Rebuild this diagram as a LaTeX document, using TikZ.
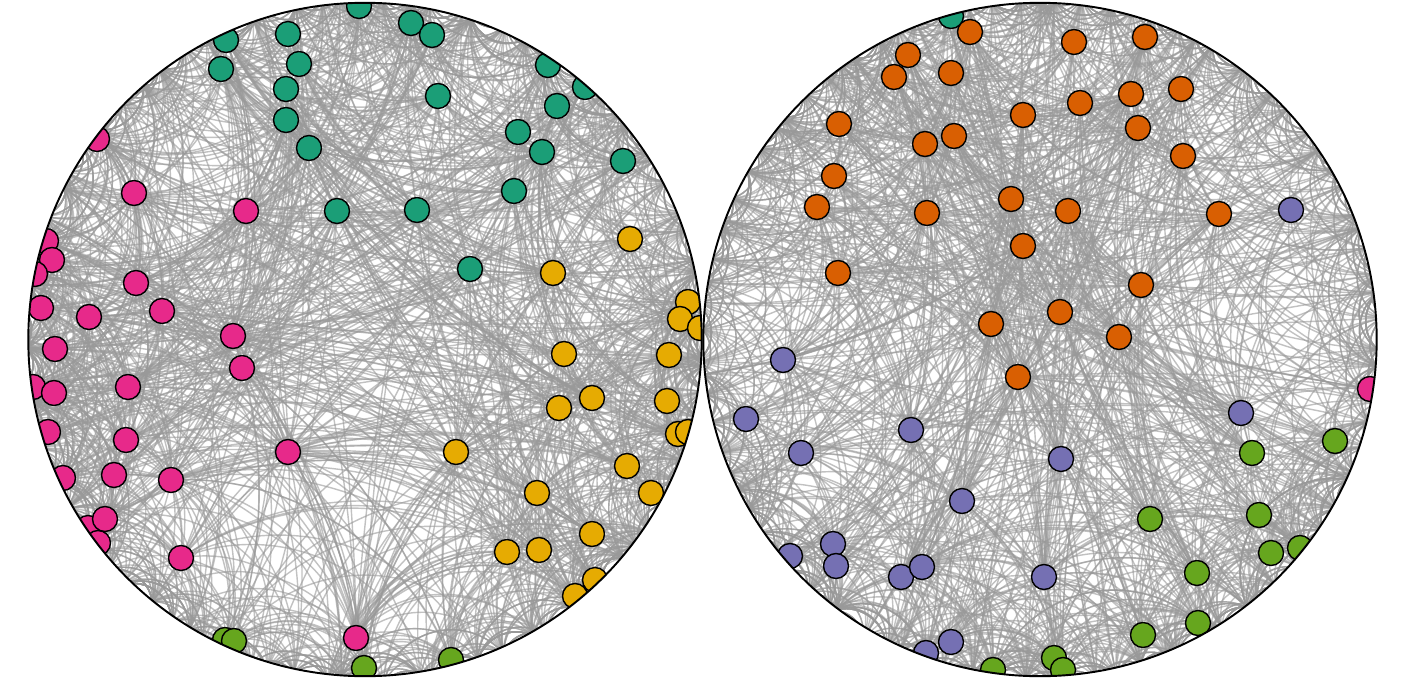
\documentclass[tikz,border=0pt]{standalone}
\pgfdeclarelayer{bgwhite}
\pgfdeclarelayer{edges}
\pgfsetlayers{bgwhite,edges,main}
\definecolor{cTeal}{HTML}{1B9E77}
\definecolor{cOrange}{HTML}{D95F02}
\definecolor{cPurple}{HTML}{7570B3}
\definecolor{cPink}{HTML}{E7298A}
\definecolor{cGreen}{HTML}{66A61E}
\definecolor{cYellow}{HTML}{E6AB02}
\definecolor{edgegray}{HTML}{999999}
\tikzset{
  vert/.style={circle, draw=black, line width=0.4pt, minimum size=0.25cm, inner sep=0pt},
  geo/.style={draw=edgegray, line width=0.4pt, draw opacity=0.6},
  rimline/.style={draw=black, line width=0.55pt},
}
\def\NG{90}
% store normalized coordinates (w.r.t. the hyperbolic disk of radius \dH)
\newcommand\storenode[4]{% #1 prefix, #2 index, #3 x, #4 y
  \pgfmathsetmacro\tu{((#3)-\dcx)/\dH}%
  \pgfmathsetmacro\tv{((#4)-\dcy)/\dH}%
  \pgfmathsetmacro\ta{1+(\tu)*(\tu)+(\tv)*(\tv)}%
  \pgfmathsetmacro\tw{1-min((\tu)*(\tu)+(\tv)*(\tv),0.98)}%
  \expandafter\xdef\csname #1u#2\endcsname{\tu}%
  \expandafter\xdef\csname #1v#2\endcsname{\tv}%
  \expandafter\xdef\csname #1a#2\endcsname{\ta}%
  \expandafter\xdef\csname #1w#2\endcsname{\tw}%
}
% hyperbolic geodesic between two named points
\newcommand\geoedge[4]{% #1 prefix, #2 i, #3 prefix, #4 j
  \edef\gui{\csname #1u#2\endcsname}\edef\gvi{\csname #1v#2\endcsname}%
  \edef\guj{\csname #3u#4\endcsname}\edef\gvj{\csname #3v#4\endcsname}%
  \edef\gai{\csname #1a#2\endcsname}\edef\gaj{\csname #3a#4\endcsname}%
  \pgfmathsetmacro\gdet{(\gui)*(\gvj)-(\guj)*(\gvi)}%
  \pgfmathtruncatemacro\gstraight{abs(\gdet)<0.03}%
  \ifnum\gstraight=1
    \draw[geo] (#1#2.center) -- (#3#4.center);%
  \else
    \pgfmathsetmacro\gox{((\gai)*(\gvj)-(\gaj)*(\gvi))/(2*(\gdet))}%
    \pgfmathsetmacro\goy{((\gaj)*(\gui)-(\gai)*(\guj))/(2*(\gdet))}%
    \pgfmathsetmacro\gta{atan2((\gvi)-(\goy),(\gui)-(\gox))}%
    \pgfmathsetmacro\gtb{atan2((\gvj)-(\goy),(\guj)-(\gox))}%
    \pgfmathsetmacro\gr{veclen((\gui)-(\gox),(\gvi)-(\goy))}%
    \pgfmathsetmacro\gd{mod((\gtb)-(\gta)+540,360)-180}%
    \pgfmathsetmacro\gk{4/3*tan((\gd)/4)*(\gr)}%
    \pgfmathsetmacro\gax{\dcx+\dH*((\gui)-(\gk)*sin(\gta))}%
    \pgfmathsetmacro\gay{\dcy+\dH*((\gvi)+(\gk)*cos(\gta))}%
    \pgfmathsetmacro\gbx{\dcx+\dH*((\guj)+(\gk)*sin(\gtb))}%
    \pgfmathsetmacro\gby{\dcy+\dH*((\gvj)-(\gk)*cos(\gtb))}%
    \draw[geo] (#1#2.center) .. controls (\gax,\gay) and (\gbx,\gby) .. (#3#4.center);%
  \fi}
% random test of one pair
\newcommand\pairtest[6]{% #1 P, #2 i, #3 Q, #4 j, #5 K, #6 cap
  \edef\eUi{\csname #1u#2\endcsname}\edef\eVi{\csname #1v#2\endcsname}\edef\eWi{\csname #1w#2\endcsname}%
  \edef\eUj{\csname #3u#4\endcsname}\edef\eVj{\csname #3v#4\endcsname}\edef\eWj{\csname #3w#4\endcsname}%
  \pgfmathsetmacro\eDl{min((((\eUi)-(\eUj))*((\eUi)-(\eUj))+((\eVi)-(\eVj))*((\eVi)-(\eVj)))/((\eWi)*(\eWj)*#5),20)}%
  \pgfmathtruncatemacro\eHit{rnd<(\eBase+#6/(1+(\eDl)*(\eDl)))}%
  \ifnum\eHit=1 \geoedge{#1}{#2}{#3}{#4}\fi}
% all edges of one disk
\newcommand\diskall[2]{% #1 prefix, #2 number of nodes
  % points of the graph lying beyond the visible disk
  \foreach \k in {1,...,\NG}{%
    \pgfmathsetmacro\gth{360/\NG*\k+3*rnd}%
    \pgfmathsetmacro\grho{0.928+0.032*rnd}%
    \pgfmathsetmacro\gpx{\dcx+\dH*\grho*cos(\gth)}%
    \pgfmathsetmacro\gpy{\dcy+\dH*\grho*sin(\gth)}%
    \coordinate (#1G\k) at (\gpx,\gpy);%
    \storenode{#1G}{\k}{\gpx}{\gpy}%
  }%
  % node -- node
  \def\eBase{0.014}%
  \pgfmathtruncatemacro\dNm{#2-1}%
  \foreach \i in {1,...,\dNm}{%
    \pgfmathtruncatemacro\jst{\i+1}%
    \foreach \j in {\jst,...,#2}{\pairtest{#1}{\i}{#1}{\j}{5}{0.55}}%
  }%
  % node -- outer point
  \def\eBase{0.011}%
  \foreach \i in {1,...,#2}{%
    \foreach \k in {1,...,\NG}{\pairtest{#1}{\i}{#1G}{\k}{5}{0.8}}%
  }%
  % outer point -- outer point (the band along the rim)
  \foreach \k in {1,...,1100}{%
    \pgfmathtruncatemacro\ga{min(\NG,1+floor(\NG*rnd))}%
    \pgfmathtruncatemacro\gm{2+floor(14*rnd*rnd*rnd)}%
    \pgfmathtruncatemacro\gb{mod(\ga+\gm-1,\NG)+1}%
    \geoedge{#1G}{\ga}{#1G}{\gb}%
  }%
}
\begin{document}
\begin{tikzpicture}[x=0.01cm,y=-0.01cm]
\useasboundingbox (0,0) rectangle (1406,685);
\begin{pgfonlayer}{bgwhite}
  \fill[white] (0,0) rectangle (1406,685);
\end{pgfonlayer}
\pgfmathsetseed{20240}
% ---------------- left disk ----------------
\def\dcx{365}\def\dcy{339.5}\def\dH{363.4}
\begin{scope}
\clip (365,339.5) circle[radius=3.365cm];
\foreach \x/\y/\c [count=\n] in {
 359/6/cTeal, 226/40/cTeal, 288/34/cTeal, 221/69/cTeal, 299/64/cTeal, 286/89/cTeal,
 286/120/cTeal, 309/148/cTeal, 337/211/cTeal, 411/23/cTeal, 432/35/cTeal, 548/65/cTeal,
 585/87/cTeal, 438/96/cTeal, 557/106/cTeal, 518/132/cTeal, 542/152/cTeal, 623/161/cTeal,
 514/191/cTeal, 417/210/cTeal, 470/269/cTeal,
 97/139/cPink, 134/193/cPink, 246/211/cPink, 46/241/cPink, 52/260/cPink, 35/274/cPink,
 136/283/cPink, 41/308/cPink, 89/317/cPink, 162/311/cPink, 233/336/cPink, 55/349/cPink,
 242/368/cPink, 33/387/cPink, 54/393/cPink, 128/387/cPink, 48/432/cPink, 126/440/cPink,
 288/452/cPink, 63/478/cPink, 114/475/cPink, 171/480/cPink, 88/528/cPink, 98/543/cPink,
 105/519/cPink, 181/558/cPink, 356/638/cPink,
 630/239/cYellow, 553/273/cYellow, 688/302/cYellow, 680/319/cYellow, 700/328/cYellow,
 564/354/cYellow, 669/355/cYellow, 592/398/cYellow, 559/408/cYellow, 667/401/cYellow,
 678/434/cYellow, 688/432/cYellow, 456/452/cYellow, 627/466/cYellow, 651/493/cYellow,
 537/493/cYellow, 592/534/cYellow, 507/552/cYellow, 539/550/cYellow, 575/596/cYellow,
 595/580/cYellow,
 225/640/cGreen, 234/641/cGreen, 364/668/cGreen, 451/660/cGreen}{
  \node[vert,fill=\c] (L\n) at (\x,\y) {};
  \storenode{L}{\n}{\x}{\y}
  \xdef\NL{\n}
}
\end{scope}
\begin{pgfonlayer}{edges}
\begin{scope}
\clip (365,339.5) circle[radius=3.365cm];
\diskall{L}{\NL}
\end{scope}
\end{pgfonlayer}
\draw[rimline] (365,339.5) circle[radius=3.365cm];
% ---------------- right disk ----------------
\def\dcx{1040}\def\dcy{339.5}\def\dH{363.4}
\begin{scope}
\clip (1040,339.5) circle[radius=3.365cm];
\foreach \x/\y/\c [count=\n] in {
 951/16/cTeal,
 970/32/cOrange, 908/55/cOrange, 894/77/cOrange, 951/73/cOrange, 1023/115/cOrange,
 839/124/cOrange, 954/136/cOrange, 925/144/cOrange, 834/176/cOrange, 817/207/cOrange,
 927/213/cOrange, 1011/199/cOrange, 1023/246/cOrange, 838/273/cOrange, 991/324/cOrange,
 1074/42/cOrange, 1145/37/cOrange, 1080/103/cOrange, 1131/94/cOrange, 1181/89/cOrange,
 1138/128/cOrange, 1183/156/cOrange, 1068/211/cOrange, 1219/214/cOrange, 1141/285/cOrange,
 1060/312/cOrange, 1119/337/cOrange, 1018/377/cOrange,
 1291/210/cPurple, 783/360/cPurple, 746/419/cPurple, 911/430/cPurple, 801/453/cPurple,
 962/501/cPurple, 790/556/cPurple, 833/544/cPurple, 836/566/cPurple, 901/577/cPurple,
 922/567/cPurple, 1044/577/cPurple, 926/653/cPurple, 951/642/cPurple, 1241/413/cPurple,
 1061/459/cPurple,
 993/670/cGreen, 1054/658/cGreen, 1063/670/cGreen, 1143/635/cGreen, 1198/623/cGreen,
 1197/573/cGreen, 1150/519/cGreen, 1259/515/cGreen, 1271/553/cGreen, 1300/548/cGreen,
 1252/453/cGreen, 1335/441/cGreen,
 1370/389/cPink}{
  \node[vert,fill=\c] (R\n) at (\x,\y) {};
  \storenode{R}{\n}{\x}{\y}
  \xdef\NR{\n}
}
\end{scope}
\begin{pgfonlayer}{edges}
\begin{scope}
\clip (1040,339.5) circle[radius=3.365cm];
\diskall{R}{\NR}
\end{scope}
\end{pgfonlayer}
\draw[rimline] (1040,339.5) circle[radius=3.365cm];
\end{tikzpicture}
\end{document}
